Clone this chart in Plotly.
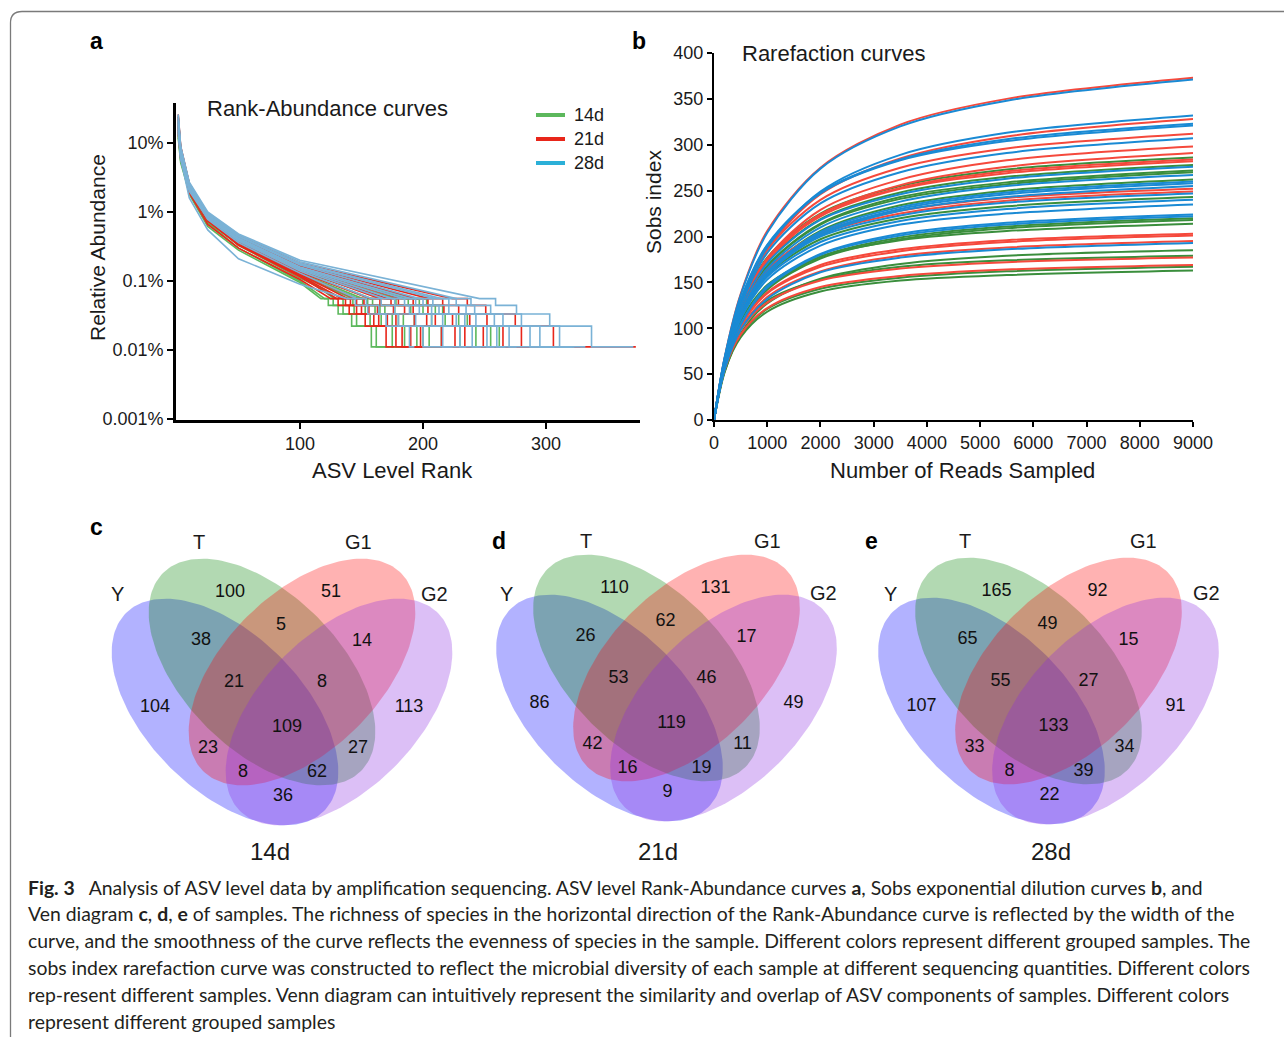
import numpy as np
import plotly.graph_objects as go

W, H = 1284, 1037
FONT = "Liberation Sans, Arial, sans-serif"
INK = "#1a1a1a"

# ---------------- Panel a : Rank-Abundance (values in %) ----------------
ra_head_ranks = [1, 3, 10, 25, 50, 100]
ra_levels_pct = [0.0556, 0.0444, 0.0333, 0.0222, 0.0111]   # 5,4,3,2,1 reads of 9000
ra_14d_head = [
    [14, 6.0, 1.8, 0.62, 0.28, 0.095], [18, 7.0, 2.1, 0.70, 0.30, 0.10],
    [22, 8.0, 2.4, 0.80, 0.33, 0.11], [16, 6.5, 2.0, 0.72, 0.34, 0.12],
    [20, 7.5, 2.3, 0.78, 0.36, 0.125], [13, 5.5, 2.0, 0.76, 0.36, 0.13],
    [24, 8.5, 2.5, 0.85, 0.38, 0.135], [17, 6.8, 2.2, 0.82, 0.38, 0.14],
    [15, 6.2, 2.1, 0.80, 0.39, 0.145], [21, 7.8, 2.4, 0.86, 0.40, 0.15],
    [19, 7.2, 2.3, 0.84, 0.40, 0.15], [12, 5.2, 1.9, 0.74, 0.35, 0.125]]
ra_14d_tail = [
    [117, 123, 131, 142, 158, 172], [120, 127, 135, 146, 162, 185],
    [135, 143, 153, 166, 185, 214], [143, 151, 161, 175, 195, 218],
    [147, 155, 165, 180, 200, 222], [151, 159, 169, 184, 205, 243],
    [158, 166, 177, 193, 215, 262], [169, 178, 190, 207, 230, 270],
    [178, 188, 200, 218, 243, 272], [187, 197, 210, 229, 255, 278],
    [192, 203, 216, 236, 262, 286], [128, 135, 144, 157, 175, 220]]
ra_21d_head = [
    [15, 6.2, 1.9, 0.66, 0.30, 0.105], [23, 8.2, 2.4, 0.75, 0.33, 0.115],
    [18, 7.0, 2.2, 0.74, 0.34, 0.12], [26, 9.0, 2.6, 0.82, 0.36, 0.125],
    [14, 6.0, 2.0, 0.78, 0.37, 0.13], [20, 7.5, 2.3, 0.80, 0.38, 0.135],
    [17, 6.8, 2.2, 0.84, 0.40, 0.145], [22, 8.0, 2.5, 0.88, 0.41, 0.15],
    [16, 6.5, 2.1, 0.86, 0.42, 0.155], [19, 7.2, 2.4, 0.90, 0.43, 0.165],
    [24, 8.6, 2.6, 0.92, 0.44, 0.17], [21, 7.8, 2.5, 0.95, 0.46, 0.18]]
ra_21d_tail = [
    [125, 131, 140, 153, 170, 177], [130, 137, 146, 160, 178, 195],
    [134, 141, 150, 164, 183, 201], [139, 146, 156, 171, 190, 203],
    [145, 152, 163, 178, 198, 249], [157, 165, 176, 193, 215, 252],
    [165, 174, 185, 203, 226, 282], [171, 180, 192, 210, 234, 284],
    [182, 192, 204, 224, 249, 298], [194, 204, 217, 238, 265, 312],
    [205, 216, 229, 252, 280, 328], [224, 236, 251, 275, 306, 373]]
ra_28d_head = [
    [16, 6.0, 1.6, 0.55, 0.21, 0.09], [20, 7.2, 2.2, 0.78, 0.36, 0.13],
    [25, 8.8, 2.5, 0.84, 0.38, 0.14], [18, 6.8, 2.2, 0.82, 0.39, 0.145],
    [14, 5.8, 2.0, 0.80, 0.40, 0.15], [22, 8.0, 2.4, 0.86, 0.41, 0.155],
    [17, 6.6, 2.2, 0.88, 0.42, 0.16], [19, 7.4, 2.4, 0.92, 0.44, 0.17],
    [23, 8.4, 2.6, 0.94, 0.45, 0.175], [15, 6.2, 2.2, 0.90, 0.45, 0.18],
    [21, 7.8, 2.5, 0.96, 0.47, 0.19], [26, 9.0, 2.7, 1.00, 0.48, 0.20]]
ra_28d_tail = [
    [138, 145, 155, 170, 189, 193], [146, 154, 164, 180, 200, 224],
    [158, 166, 177, 194, 216, 235], [168, 177, 189, 207, 230, 247],
    [175, 185, 197, 216, 240, 258], [184, 194, 207, 227, 252, 267],
    [190, 200, 213, 234, 260, 276], [197, 208, 221, 243, 270, 307],
    [210, 221, 235, 258, 287, 321], [215, 227, 242, 265, 295, 323],
    [227, 239, 255, 280, 311, 332], [246, 259, 276, 303, 337, 371]]
ra_groups = ["14d", "21d", "28d"]

# ---------------- Panel b : Rarefaction (Sobs) ----------------
rare_depth = [0, 200, 500, 1000, 2000, 3500, 5500, 9000]
rare_14d = [
    [0, 65, 124, 177, 225, 255, 273, 286], [0, 63, 120, 172, 219, 248, 265, 278],
    [0, 62, 118, 168, 214, 243, 259, 272], [0, 62, 117, 167, 213, 241, 257, 270],
    [0, 60, 114, 162, 206, 234, 250, 262], [0, 61, 113, 158, 197, 220, 233, 243],
    [0, 56, 103, 143, 178, 199, 211, 220], [0, 55, 102, 142, 176, 197, 209, 218],
    [0, 61, 108, 147, 178, 196, 206, 214], [0, 52, 94, 127, 154, 170, 179, 185],
    [0, 58, 99, 130, 153, 167, 174, 179], [0, 54, 92, 121, 143, 155, 162, 167],
    [0, 53, 90, 118, 140, 152, 158, 163]]
rare_21d = [
    [0, 68, 137, 206, 275, 322, 350, 373], [0, 63, 125, 186, 246, 285, 309, 328],
    [0, 65, 127, 185, 240, 275, 296, 312], [0, 62, 121, 176, 229, 262, 283, 298],
    [0, 61, 118, 172, 224, 256, 276, 291], [0, 65, 123, 176, 224, 253, 271, 284],
    [0, 64, 122, 175, 222, 252, 269, 282], [0, 64, 118, 164, 204, 228, 242, 252],
    [0, 63, 116, 162, 202, 225, 239, 249], [0, 57, 103, 139, 169, 186, 196, 203],
    [0, 57, 102, 138, 167, 184, 194, 201], [0, 55, 99, 134, 162, 179, 188, 195],
    [0, 57, 98, 128, 152, 165, 172, 177], [0, 55, 93, 122, 145, 157, 164, 169]]
rare_28d = [
    [0, 68, 136, 204, 274, 320, 348, 371], [0, 64, 127, 188, 249, 289, 313, 332],
    [0, 67, 131, 191, 248, 284, 306, 323], [0, 67, 130, 190, 247, 283, 304, 321],
    [0, 64, 124, 182, 236, 270, 291, 307], [0, 63, 120, 171, 218, 246, 263, 276],
    [0, 61, 116, 165, 210, 238, 255, 267], [0, 59, 113, 161, 205, 232, 248, 260],
    [0, 59, 112, 160, 203, 230, 246, 258], [0, 58, 111, 158, 201, 228, 243, 255],
    [0, 62, 115, 161, 200, 223, 237, 247], [0, 61, 112, 156, 194, 217, 230, 240],
    [0, 59, 110, 153, 190, 213, 225, 235], [0, 57, 104, 146, 181, 203, 215, 224],
    [0, 56, 104, 144, 180, 201, 213, 222], [0, 55, 98, 132, 161, 177, 186, 193]]

# ---------------- Panels c-e : Venn counts ----------------
venn_sets = ["Y", "T", "G1", "G2"]
venn_regions = ["Y", "T", "G1", "G2", "YT", "TG1", "G1G2", "YTG1", "TG1G2",
                "YTG1G2", "YG1", "TG2", "YG1G2", "YTG2", "YG2"]
venn_14d = [104, 100, 51, 113, 38, 5, 14, 21, 8, 109, 23, 27, 8, 62, 36]
venn_21d = [86, 110, 131, 49, 26, 62, 17, 53, 46, 119, 42, 11, 16, 19, 9]
venn_28d = [107, 165, 92, 91, 65, 49, 15, 55, 27, 133, 33, 34, 8, 39, 22]
venn_titles = ["14d", "21d", "28d"]

# ---------------- styling ----------------
ra_colors = {"14d": "#5cb85c", "21d": "#e8261a", "28d": "#7ab2d6"}
legend_colors = {"14d": "#5cb85c", "21d": "#e8261a", "28d": "#2bb0d8"}
rare_colors = {"14d": "#3a8e3c", "21d": "#f5493c", "28d": "#1a8ad4"}
venn_fill = {"Y": "rgba(0,0,255,0.3)", "T": "rgba(0,128,0,0.3)",
             "G1": "rgba(255,0,0,0.3)", "G2": "rgba(138,43,226,0.3)"}

fig = go.Figure()

# Panel a traces
def ra_xy(head, tail):
    xs, ys = list(ra_head_ranks), list(head)
    stops = tail[1:]
    for s, e, lv in zip(tail[:-1], stops, ra_levels_pct):
        xs += [s, e]
        ys += [lv, lv]
    return xs, ys

for g, heads, tails in [("14d", ra_14d_head, ra_14d_tail),
                        ("21d", ra_21d_head, ra_21d_tail),
                        ("28d", ra_28d_head, ra_28d_tail)]:
    for hd, tl in zip(heads, tails):
        xs, ys = ra_xy(hd, tl)
        fig.add_trace(go.Scatter(x=xs, y=ys, mode="lines", xaxis="x", yaxis="y",
                                 line=dict(color=ra_colors[g], width=1.6),
                                 showlegend=False, hoverinfo="skip"))

# Panel b traces
for g, curves in [("14d", rare_14d), ("21d", rare_21d), ("28d", rare_28d)]:
    for c in curves:
        fig.add_trace(go.Scatter(x=rare_depth, y=c, mode="lines", xaxis="x2", yaxis="y2",
                                 line=dict(color=rare_colors[g], width=2, shape="spline",
                                           smoothing=0.9),
                                 showlegend=False, hoverinfo="skip"))

# Venn panels (overlay axis in pixel coordinates)
venn_geo = [(282.0, 672.0), (666.5, 668.0), (1048.5, 671.0)]
ell_a, ell_b = 140.0, 78.0
set_offsets = {"Y": (-57, 40, 45), "T": (-20, 0, 45), "G1": (20, 0, 135), "G2": (57, 40, 135)}
region_offsets = {"T": (-52, -80), "G1": (49, -80), "YT": (-81, -32), "TG1": (-1, -47),
                  "G1G2": (80, -31), "YTG1": (-48, 10), "TG1G2": (40, 10), "Y": (-127, 35),
                  "YTG1G2": (5, 55), "G2": (127, 35), "YG1": (-74, 76), "TG2": (76, 76),
                  "YG1G2": (-39, 100), "YTG2": (35, 100), "YG2": (1, 124)}
t = np.linspace(0, 2 * np.pi, 181)
for (x0, cy), counts in zip(venn_geo, [venn_14d, venn_21d, venn_28d]):
    for s in venn_sets:
        dx, dy, ang = set_offsets[s]
        th = np.deg2rad(ang)
        ex = ell_a * np.cos(t) * np.cos(th) - ell_b * np.sin(t) * np.sin(th) + x0 + dx
        ey = ell_a * np.cos(t) * np.sin(th) + ell_b * np.sin(t) * np.cos(th) + cy + dy
        fig.add_trace(go.Scatter(x=ex, y=ey, mode="lines", fill="toself",
                                 fillcolor=venn_fill[s], line=dict(width=0),
                                 xaxis="x3", yaxis="y3", showlegend=False, hoverinfo="skip"))
    fig.add_trace(go.Scatter(
        x=[x0 + region_offsets[r][0] for r in venn_regions],
        y=[cy + region_offsets[r][1] for r in venn_regions],
        text=[str(v) for v in counts], mode="text", xaxis="x3", yaxis="y3",
        textfont=dict(family=FONT, size=18, color="#111111"),
        showlegend=False, hoverinfo="skip"))

anns = []
def txt(x, y, s, size, bold=False, xanchor="center", angle=0, color=INK, family=FONT):
    anns.append(dict(x=x, y=y, xref="x3", yref="y3", text=("<b>%s</b>" % s) if bold else s,
                     showarrow=False, xanchor=xanchor, yanchor="middle", textangle=angle,
                     font=dict(family=family, size=size, color=color)))

# panel letters
for s, x, y in [("a", 96, 41), ("b", 639, 41), ("c", 96, 527), ("d", 499, 541), ("e", 871, 541)]:
    txt(x, y, s, 23, bold=True, color="#000000")

# panel a texts
txt(327, 108, "Rank-Abundance curves", 22)
txt(392, 470, "ASV Level Rank", 22)
txt(97, 248, "Relative Abundance", 21, angle=-90)
for i, g in enumerate(ra_groups):
    y = 115 + 24 * i
    txt(572, y, g, 18, xanchor="left")
# panel b texts
txt(833, 53, "Rarefaction curves", 22)
txt(962, 470, "Number of Reads Sampled", 22)
txt(653, 202, "Sobs index", 21, angle=-90)

# venn labels
venn_label_pos = [
    {"T": (199, 542), "G1": (358, 542), "Y": (117, 594), "G2": (434, 594)},
    {"T": (586, 541), "G1": (767, 541), "Y": (506, 594), "G2": (823, 593)},
    {"T": (965, 541), "G1": (1143, 541), "Y": (890, 594), "G2": (1206, 593)}]
venn_title_pos = [(270, 851), (658, 851), (1051, 851)]
for lp, (tx, ty), ttl in zip(venn_label_pos, venn_title_pos, venn_titles):
    for s in venn_sets:
        txt(lp[s][0], lp[s][1], s, 20)
    txt(tx, ty, ttl, 24)

# caption
CAP = "Lato, Open Sans, sans-serif"
caption_lines = [
    "<b>Fig. 3</b>\u2002 Analysis of ASV level data by amplification sequencing. ASV level Rank-Abundance curves <b>a</b>, Sobs exponential dilution curves <b>b</b>, and",
    "Ven diagram <b>c</b>, <b>d</b>, <b>e</b> of samples. The richness of species in the horizontal direction of the Rank-Abundance curve is reflected by the width of the",
    "curve, and the smoothness of the curve reflects the evenness of species in the sample. Different colors represent different grouped samples. The",
    "sobs index rarefaction curve was constructed to reflect the microbial diversity of each sample at different sequencing quantities. Different colors",
    "rep-resent different samples. Venn diagram can intuitively represent the similarity and overlap of ASV components of samples. Different colors",
    "represent different grouped samples"]
for i, line in enumerate(caption_lines):
    txt(26, 887 + 26.8 * i, line, 19.4, xanchor="left", color="#231f20", family=CAP)

shapes = []
# legend swatches for panel a
for i, g in enumerate(ra_groups):
    y = 115 + 24 * i
    shapes.append(dict(type="line", xref="x3", yref="y3", x0=536, x1=565, y0=y, y1=y,
                       line=dict(color=legend_colors[g], width=4)))
# outer rounded frame
shapes.append(dict(type="path", xref="x3", yref="y3",
                   path="M 10.5 1100 L 10.5 23 Q 10.5 11.5 22 11.5 L 1400 11.5",
                   line=dict(color="#7a7a7a", width=1.3)))

axis_common = dict(showgrid=False, zeroline=False, showline=True, linecolor="#000000",
                   ticks="outside", tickcolor="#000000", tickangle=0, automargin=False,
                   tickfont=dict(family=FONT, size=18, color=INK))

fig.update_layout(
    width=W, height=H, margin=dict(l=0, r=0, t=0, b=0, pad=0, autoexpand=False),
    paper_bgcolor="white", plot_bgcolor="rgba(0,0,0,0)", showlegend=False,
    xaxis=dict(axis_common, domain=[176 / W, 640 / W], range=[-0.8, 376.4],
               tickvals=[100, 200, 300], linewidth=2.6, tickwidth=2.4, ticklen=6, anchor="y"),
    yaxis=dict(axis_common, domain=[1 - 420 / H, 1 - 103 / H], type="log",
               range=[-3.0145, 1.58], tickvals=[10, 1, 0.1, 0.01, 0.001],
               ticktext=["10%", "1%", "0.1%", "0.01%", "0.001%"],
               linewidth=2.6, tickwidth=2.4, ticklen=6, anchor="x"),
    xaxis2=dict(axis_common, domain=[714 / W, 1193 / W], range=[0, 9000], dtick=1000,
                linewidth=2, tickwidth=2, ticklen=5, anchor="y2"),
    yaxis2=dict(axis_common, domain=[1 - 420 / H, 1 - 53 / H], range=[0, 400], dtick=50,
                linewidth=2, tickwidth=2, ticklen=5, anchor="x2"),
    xaxis3=dict(domain=[0, 1], range=[0, W], visible=False, anchor="y3", fixedrange=True),
    yaxis3=dict(domain=[0, 1], range=[H, 0], visible=False, anchor="x3", fixedrange=True),
    annotations=anns, shapes=shapes)

fig.write_html("out.html", config={"displayModeBar": False},
               post_script="document.body.style.margin='0';")
